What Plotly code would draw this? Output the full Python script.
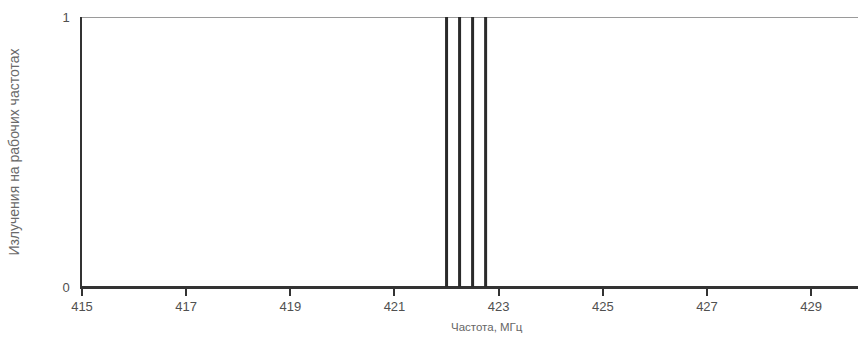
import plotly.graph_objects as go

# Operating frequencies (MHz) that carry emission
freqs = [422.0, 422.25, 422.5, 422.75]
x_ticks = [415, 417, 419, 421, 423, 425, 427, 429]
y_ticks = [0, 1]
x_min, x_max = 415, 429.9
level_on, level_off = 1, 0

# Vertical spike at each operating frequency, separated by gaps
xs, ys = [], []
for f in freqs:
    xs += [f, f, None]
    ys += [level_off, level_on, None]

fig = go.Figure()

# Upper reference level
fig.add_trace(go.Scatter(
    x=[x_min, x_max], y=[level_on, level_on], mode="lines",
    line=dict(color="#9a9a9a", width=2), cliponaxis=False,
    hoverinfo="skip", showlegend=False,
))

# Baseline (no emission)
fig.add_trace(go.Scatter(
    x=[x_min, x_max], y=[level_off, level_off], mode="lines",
    line=dict(color="#333333", width=2), cliponaxis=False,
    hoverinfo="skip", showlegend=False,
))

# Emission spikes
fig.add_trace(go.Scatter(
    x=xs, y=ys, mode="lines",
    line=dict(color="#2a2a2a", width=3), cliponaxis=False,
    showlegend=False,
))

font_family = "Liberation Sans, Arial, sans-serif"

fig.update_layout(
    width=858, height=346,
    margin=dict(l=82, r=0, t=17, b=59),
    paper_bgcolor="white", plot_bgcolor="white",
    font=dict(family=font_family, color="#555555", size=12),
    xaxis=dict(
        range=[x_min, x_max], tickvals=x_ticks,
        ticktext=[str(v) for v in x_ticks],
        showgrid=False, zeroline=False,
        showline=True, linecolor="#333333", linewidth=1.5,
        ticks="outside", ticklen=7, tickwidth=1.5, tickcolor="#333333",
        tickfont=dict(size=13, color="#505050"),
    ),
    yaxis=dict(
        range=[0, 1], tickvals=y_ticks, ticktext=["0", "1"],
        showgrid=False, zeroline=False,
        showline=True, linecolor="#333333", linewidth=1.5,
        ticks="", ticklabelstandoff=8,
        tickfont=dict(size=13, color="#505050"),
        title=dict(text="Излучения на рабочих частотах",
                   font=dict(size=14, color="#6a6a6a"), standoff=40),
    ),
    annotations=[dict(
        text="Частота, МГц", xref="paper", yref="paper",
        x=0.522, y=0, yshift=-32, xanchor="center", yanchor="top",
        showarrow=False, font=dict(size=11.5, color="#666666"),
    )],
)

fig.write_html("out.html")
